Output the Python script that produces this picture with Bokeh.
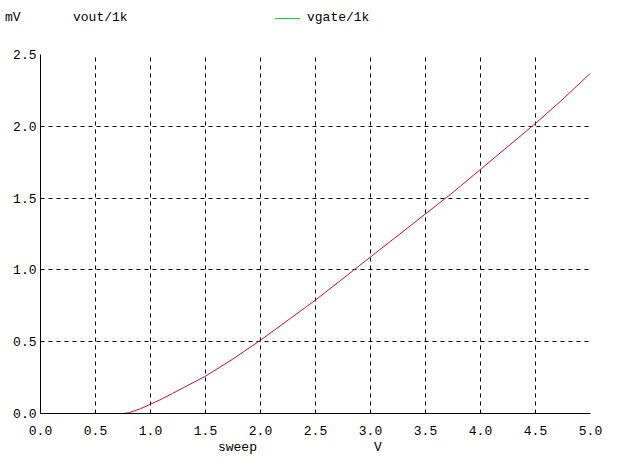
from bokeh.plotting import figure
from bokeh.layouts import column
from bokeh.models import Range1d, FixedTicker, CustomJSTickFormatter, Div
from bokeh.embed import file_html
from bokeh.resources import INLINE

sweep = [0.0, 0.25, 0.5, 0.75, 0.8, 0.9, 1.0, 1.1, 1.2, 1.3, 1.4, 1.5, 1.75, 2.0, 2.25, 2.5,
         2.75, 3.0, 3.25, 3.5, 3.75, 4.0, 4.25, 4.5, 4.75, 5.0]
vout_mv = [0.0, 0.0, 0.0, 0.0, 0.005, 0.03, 0.065, 0.10, 0.14, 0.18, 0.22, 0.26, 0.38, 0.51, 0.65, 0.79,
           0.94, 1.09, 1.24, 1.39, 1.54, 1.70, 1.86, 2.02, 2.19, 2.37]
x_ticks = [0.0, 0.5, 1.0, 1.5, 2.0, 2.5, 3.0, 3.5, 4.0, 4.5, 5.0]
y_ticks = [0.0, 0.5, 1.0, 1.5, 2.0, 2.5]
unit_label = "mV"
series_labels = ["vout/1k", "vgate/1k"]
x_label = "sweep"
x_unit = "V"

FONT = "Liberation Mono"
NB = "\u00a0"

# header strip with unit and legend (HTML text)
span = "position:absolute;top:10px;line-height:16px;white-space:nowrap;"
header_html = (
    f"<div style=\"position:relative;width:616px;height:38px;font-family:'{FONT}';"
    f"font-size:13px;color:black;\">"
    f"<span style=\"{span}left:5px;\">{unit_label}</span>"
    f"<span style=\"{span}left:73px;\">{series_labels[0]}</span>"
    f"<span style=\"position:absolute;left:275px;top:18px;width:25px;height:0;"
    f"border-top:1px solid #22cc22;\"></span>"
    f"<span style=\"{span}left:307px;\">{series_labels[1]}</span>"
    f"</div>"
)
h = Div(text=header_html, width=616, height=38, margin=0)

p = figure(width=616, height=425, output_backend="svg", toolbar_location=None,
           x_range=Range1d(0, 5), y_range=Range1d(0, 2.5),
           min_border_left=40, min_border_right=26, min_border_top=16, min_border_bottom=50)
p.outline_line_color = None

p.line(sweep, vout_mv, line_color="#cc1030", line_width=1)

for ax, ticks in ((p.xaxis[0], x_ticks), (p.yaxis[0], y_ticks)):
    ax.ticker = FixedTicker(ticks=ticks)
    ax.formatter = CustomJSTickFormatter(code="return tick.toFixed(1);")
    ax.major_tick_out = 0
    ax.major_tick_in = 0
    ax.minor_tick_out = 0
    ax.minor_tick_in = 0
    ax.axis_line_color = "black"
    ax.axis_line_width = 1
    ax.major_label_text_font = FONT
    ax.major_label_text_font_size = "13px"
    ax.major_label_text_color = "black"
p.xaxis.major_label_standoff = 12
p.yaxis.major_label_standoff = 4

p.xaxis.axis_label = x_label + NB * 15 + x_unit + NB * 4
p.xaxis.axis_label_text_font = FONT
p.xaxis.axis_label_text_font_size = "13px"
p.xaxis.axis_label_text_font_style = "normal"
p.xaxis.axis_label_text_color = "black"
p.xaxis.axis_label_standoff = 2

for gr in (p.xgrid[0], p.ygrid[0]):
    gr.grid_line_color = "black"
    gr.grid_line_dash = "4 4"
    gr.grid_line_width = 1

layout = column(h, p, spacing=0)
open("out.html", "w").write(file_html(layout, INLINE))
